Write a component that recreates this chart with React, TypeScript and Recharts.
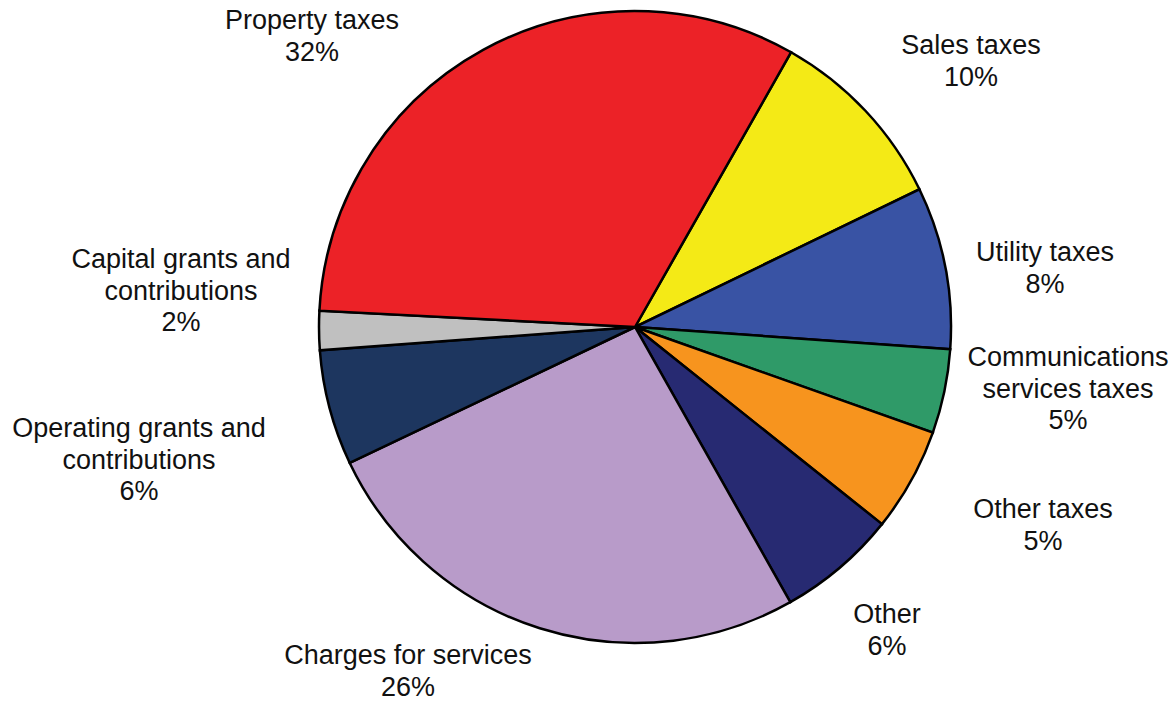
import { Cell, Pie, PieChart } from "recharts";

// slices, clockwise from the property/sales boundary
const categories = [
    "Sales taxes",
    "Utility taxes",
    "Communications\nservices taxes",
    "Other taxes",
    "Other",
    "Charges for services",
    "Operating grants and\ncontributions",
    "Capital grants and\ncontributions",
    "Property taxes",
];

// shares as drawn (degrees / 3.6)
const shares = [9.6, 8.3, 4.3, 5.3, 6.1, 26.1, 5.9, 2.0, 32.4];

// printed percentages
const printed = ["10%", "8%", "5%", "5%", "6%", "26%", "6%", "2%", "32%"];

const colors = [
    "#F4EA16",
    "#3953A4",
    "#2F9A68",
    "#F7941E",
    "#272A72",
    "#B89BC9",
    "#1D365F",
    "#C0C0C0",
    "#EC2227",
];

// label anchor: centre x and first baseline, relative to pie centre
const labelOffset = [
    [336, -273],
    [410, -66],
    [433, 39],
    [408, 191],
    [252, 296],
    [-227, 337],
    [-496, 110],
    [-454, -59],
    [-323, -298],
];

const data = categories.map((name, i) => ({ name, value: shares[i] }));

const renderLabel = (props: any) => {
    const { cx, cy, index } = props;
    const [dx, dy] = labelOffset[index];
    const lines = [...categories[index].split("\n"), printed[index]];
    return (
        <text
            x={cx + dx}
            y={cy + dy}
            textAnchor="middle"
            fill="#111"
            fontSize={27}
            fontFamily="'Liberation Sans', Arial, sans-serif"
        >
            {lines.map((line, i) => (
                <tspan key={i} x={cx + dx} dy={i === 0 ? 0 : 31.7}>
                    {line}
                </tspan>
            ))}
        </text>
    );
};

const App = () => {
    return (
        <div style={{ position: "absolute", left: 0, top: 0, background: "#fff" }}>
            <PieChart width={1172} height={702} margin={{ top: 0, right: 0, bottom: 0, left: 0 }}>
                <Pie
                    data={data}
                    dataKey="value"
                    cx={635}
                    cy={327}
                    outerRadius={316}
                    startAngle={60.4}
                    endAngle={-299.6}
                    stroke="#000"
                    strokeWidth={2.5}
                    label={renderLabel}
                    labelLine={false}
                    isAnimationActive={false}
                >
                    {data.map((d, i) => (
                        <Cell key={d.name} fill={colors[i]} stroke="#000" strokeWidth={2.5} />
                    ))}
                </Pie>
            </PieChart>
        </div>
    );
};

export default App;
